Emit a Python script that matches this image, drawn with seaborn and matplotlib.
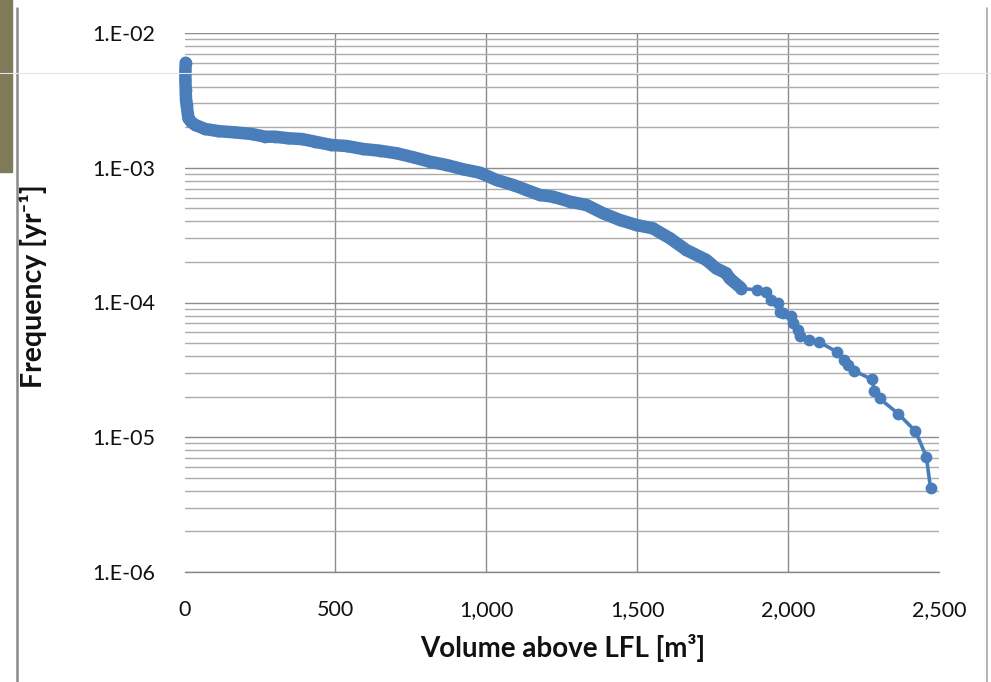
import numpy as np
import pandas as pd
import matplotlib
matplotlib.use("Agg")
import matplotlib.pyplot as plt
from matplotlib.ticker import FixedLocator, FuncFormatter, NullFormatter
from matplotlib.patches import Rectangle
from matplotlib.lines import Line2D
import seaborn as sns

# ---- data ----
volume = [4, 3, 3, 4, 5, 7, 13, 22, 35, 68, 112, 167, 223, 267, 300, 344,
          388, 432, 487, 537, 592, 647, 703, 758, 813, 868,
          923, 979, 1034, 1089, 1133, 1177, 1221, 1277, 1332, 1387,
          1442, 1497, 1552, 1608, 1663, 1729, 1762, 1795, 1806, 1839,
          1845, 1897, 1928, 1944, 1966, 1972, 1983, 2011, 2016, 2032,
          2038, 2069, 2104, 2162, 2184, 2198, 2218, 2277, 2286, 2303,
          2364, 2422, 2458, 2472]
frequency = [6.02e-3, 5.31e-3, 4.48e-3, 3.78e-3, 3.18e-3, 2.92e-3, 2.33e-3, 2.19e-3,
             2.08e-3, 1.94e-3, 1.87e-3, 1.83e-3, 1.78e-3, 1.70e-3, 1.70e-3, 1.654e-3,
             1.634e-3, 1.561e-3, 1.475e-3, 1.45e-3, 1.377e-3, 1.338e-3, 1.28e-3,
             1.196e-3, 1.109e-3, 1.048e-3,
             9.74e-4, 9.19e-4, 8.11e-4, 7.45e-4, 6.84e-4, 6.28e-4, 6.10e-4, 5.60e-4,
             5.29e-4, 4.59e-4,
             4.10e-4, 3.76e-4, 3.55e-4, 3.0e-4, 2.45e-4, 2.07e-4, 1.79e-4, 1.65e-4,
             1.51e-4, 1.31e-4,
             1.27e-4, 1.24e-4, 1.19e-4, 1.04e-4, 9.9e-5, 8.5e-5, 8.3e-5, 7.9e-5,
             7.0e-5, 6.25e-5,
             5.6e-5, 5.3e-5, 5.07e-5, 4.3e-5, 3.74e-5, 3.44e-5, 3.12e-5, 2.69e-5,
             2.22e-5, 1.94e-5,
             1.5e-5, 1.11e-5, 7.18e-6, 4.18e-6]
x_ticks = [0, 500, 1000, 1500, 2000, 2500]
x_tick_labels = ["0", "500", "1,000", "1,500", "2,000", "2,500"]
y_ticks = [1e-6, 1e-5, 1e-4, 1e-3, 1e-2]
x_title = "Volume above LFL [m³]"
y_title = "Frequency [yr⁻¹]"

df = pd.DataFrame({"volume": volume, "frequency": frequency})
dense = df[df["volume"] <= 1845]

sns.set_style("white")
plt.rcParams["font.family"] = ["Lato", "DejaVu Sans"]

W, H = 991, 682
fig = plt.figure(figsize=(W / 100, H / 100), dpi=100)
x0, x1, ytop, ybot = 184.5, 939, 33, 572
ax = fig.add_axes([x0 / W, 1 - ybot / H, (x1 - x0) / W, (ybot - ytop) / H])

blue = "#4a7ebb"
# dense part of the series drawn as a thick band (overlapping markers in the original)
sns.lineplot(data=dense, x="volume", y="frequency", ax=ax, sort=False, estimator=None,
             color=blue, lw=9, solid_capstyle="round", solid_joinstyle="round",
             zorder=3, clip_on=False)
sns.lineplot(data=df, x="volume", y="frequency", ax=ax, sort=False, estimator=None,
             color=blue, lw=2.6, marker="o", markersize=8.5, markeredgewidth=0,
             zorder=4, clip_on=False)

ax.set_yscale("log")
ax.set_xlim(0, 2500)
ax.set_ylim(1e-6, 1e-2)

ax.xaxis.set_major_locator(FixedLocator(x_ticks))
ax.set_xticklabels(x_tick_labels)
ax.yaxis.set_major_locator(FixedLocator(y_ticks))
ax.yaxis.set_major_formatter(FuncFormatter(lambda v, p: "1.E-%02d" % int(round(-np.log10(v)))))
minor = [m * 10.0 ** e for e in range(-6, -2) for m in range(2, 10)]
ax.yaxis.set_minor_locator(FixedLocator(minor))
ax.yaxis.set_minor_formatter(NullFormatter())

grid_major = "#8c8c8c"
grid_minor = "#acacac"
ax.grid(which="major", axis="x", color=grid_major, lw=1.0)
ax.grid(which="major", axis="y", color=grid_major, lw=1.0)
ax.grid(which="minor", axis="y", color=grid_minor, lw=1.0)
ax.set_axisbelow(True)

for s in ["top", "right", "left"]:
    ax.spines[s].set_visible(False)
ax.spines["bottom"].set_color("#868686")
ax.spines["bottom"].set_linewidth(1.0)

ax.tick_params(axis="x", which="major", length=10, width=1, color=grid_major,
               labelsize=15.5, labelcolor="#111111", pad=10)
ax.tick_params(axis="y", which="major", length=8, width=1, color=grid_major,
               labelsize=15.5, labelcolor="#111111", pad=13)
ax.tick_params(axis="y", which="minor", length=0)
xt = ax.xaxis.get_major_ticks()
for t in (xt[0], xt[-1]):
    t.tick1line.set_visible(False)
    t.gridline.set_visible(False)

ax.set_xlabel(x_title, fontsize=20, fontweight="bold", color="#111111")
ax.xaxis.label.set_va("center")
ax.xaxis.set_label_coords((563 - x0) / (x1 - x0), -(648 - ybot) / (ybot - ytop))
ax.set_ylabel(y_title, fontsize=20.5, fontweight="bold", color="#111111")
ax.yaxis.label.set_va("center")
ax.yaxis.set_label_coords((33 - x0) / (x1 - x0), (ybot - 286.5) / (ybot - ytop))

# slide decorations around the chart
fig.patches.append(Rectangle((0, 1 - 172 / H), 12 / W, 172 / H, transform=fig.transFigure,
                             color="#7f7b58", zorder=0))
fig.add_artist(Line2D([16.7 / W] * 2, [0, 1 - 8 / H], color="#8a8a8a", lw=1.8))
fig.add_artist(Line2D([987 / W] * 2, [0, 1 - 8 / H], color="#a8a8a8", lw=1.2))
fig.add_artist(Line2D([0, 1], [1 - 73 / H] * 2, color="#e6e6e6", lw=0.8, zorder=10))

fig.savefig("out.png", dpi=100)
